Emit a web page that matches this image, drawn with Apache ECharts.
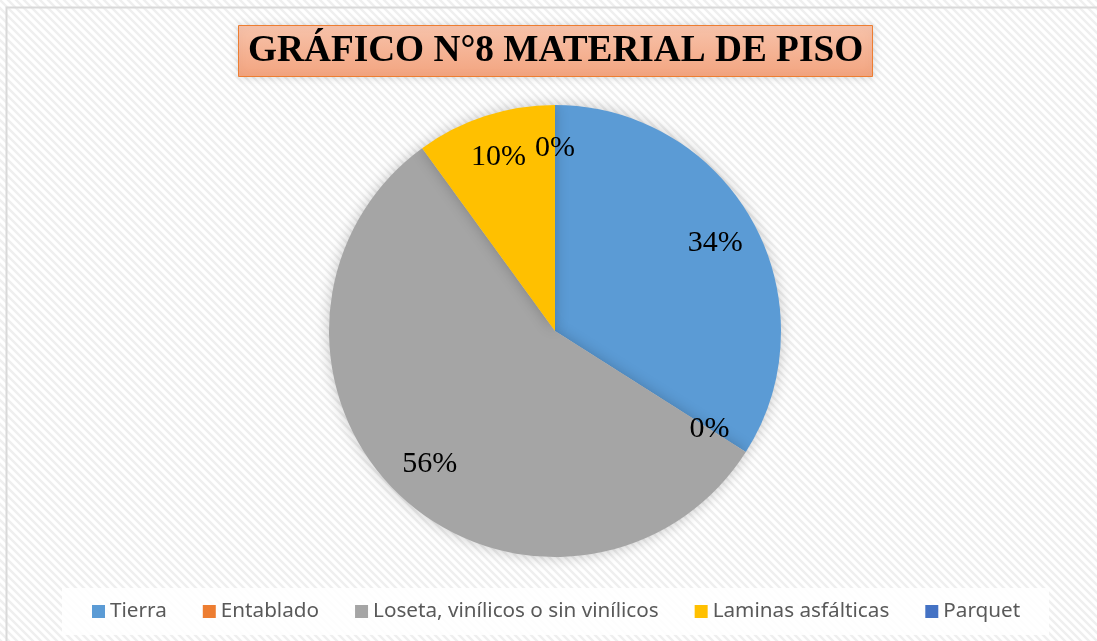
<!DOCTYPE html>
<html>
<head>
<meta charset="utf-8">
<script src="https://cdn.jsdelivr.net/npm/echarts@6/dist/echarts.min.js"></script>
<style>
  html, body { margin: 0; padding: 0; background: #fff; }
  #chart { width: 1097px; height: 641px; }
</style>
</head>
<body>
<div id="chart"></div>
<script>
    // Datos del gráfico
    var categorias = ["Tierra", "Entablado", "Loseta, vinílicos o sin vinílicos", "Laminas asfálticas", "Parquet"];
    var valores = [34, 0, 56, 10, 0];
    var colores = ["#5b9bd5", "#ed7d31", "#a5a5a5", "#ffc000", "#4472c4"];
    var titulo = "GRÁFICO N°8 MATERIAL DE PISO";

    // fondo rayado diagonal
    var tile = document.createElement("canvas");
    tile.width = 8;
    tile.height = 8;
    var ctx = tile.getContext("2d");
    ctx.fillStyle = "#ffffff";
    ctx.fillRect(0, 0, 8, 8);
    ctx.strokeStyle = "#efefef";
    ctx.lineWidth = 2.5;
    ctx.beginPath();
    ctx.moveTo(-2, -2); ctx.lineTo(10, 10);
    ctx.moveTo(-10, -2); ctx.lineTo(2, 10);
    ctx.moveTo(6, -2); ctx.lineTo(18, 10);
    ctx.stroke();

    var pieData = categorias.map(function (name, i) {
        return { name: name, value: valores[i], itemStyle: { color: colores[i] } };
    });

    var chart = echarts.init(document.getElementById("chart"));
    chart.setOption({
        backgroundColor: { image: tile, repeat: "repeat" },
        animation: false,
        title: {
            text: titulo,
            left: 238,
            top: 25,
            padding: [6, 10, 6, 10],
            backgroundColor: new echarts.graphic.LinearGradient(0, 0, 0, 1, [
                { offset: 0, color: "#f7c3ab" },
                { offset: 1, color: "#f3a47f" }
            ]),
            borderColor: "#ed7d31",
            borderWidth: 1,
            shadowBlur: 8,
            shadowColor: "rgba(0,0,0,0.15)",
            textStyle: {
                fontFamily: "Liberation Serif",
                fontWeight: "bold",
                fontSize: 37.3,
                lineHeight: 40,
                color: "#000"
            }
        },
        legend: {
            data: categorias,
            left: 62,
            top: 588,
            padding: [13, 29, 13, 30],
            backgroundColor: "rgba(255,255,255,0.88)",
            itemWidth: 13,
            itemHeight: 13,
            itemGap: 36,
            icon: "rect",
            textStyle: {
                fontFamily: "Noto Sans",
                fontSize: 20.7,
                lineHeight: 16,
                color: "#595959"
            }
        },
        graphic: [{
            type: "rect",
            shape: { x: 6.5, y: 7.5, width: 1200, height: 700 },
            style: { fill: null, stroke: "#d9d9d9", lineWidth: 2 },
            silent: true
        }],
        series: [
            {
                name: "piso",
                type: "pie",
                center: [555, 331],
                radius: [0, 226],
                startAngle: 90,
                clockwise: true,
                data: pieData,
                label: { show: false },
                labelLine: { show: false },
                itemStyle: {
                    shadowBlur: 14,
                    shadowColor: "rgba(0,0,0,0.22)"
                },
                emphasis: { disabled: true }
            },
            {
                // capa solo para etiquetas
                name: "etiquetas",
                type: "pie",
                center: [555, 331],
                radius: [134, 226],
                startAngle: 90,
                clockwise: true,
                silent: true,
                data: categorias.map(function (name, i) {
                    return { name: name, value: valores[i] };
                }),
                itemStyle: { color: "rgba(0,0,0,0)" },
                label: {
                    show: true,
                    position: "inside",
                    fontFamily: "Liberation Serif",
                    fontSize: 30,
                    color: "#000",
                    formatter: function (p) {
                        return Math.round(p.percent) + "%";
                    }
                },
                labelLine: { show: false },
                emphasis: { disabled: true }
            }
        ]
    });
</script>
</body>
</html>
